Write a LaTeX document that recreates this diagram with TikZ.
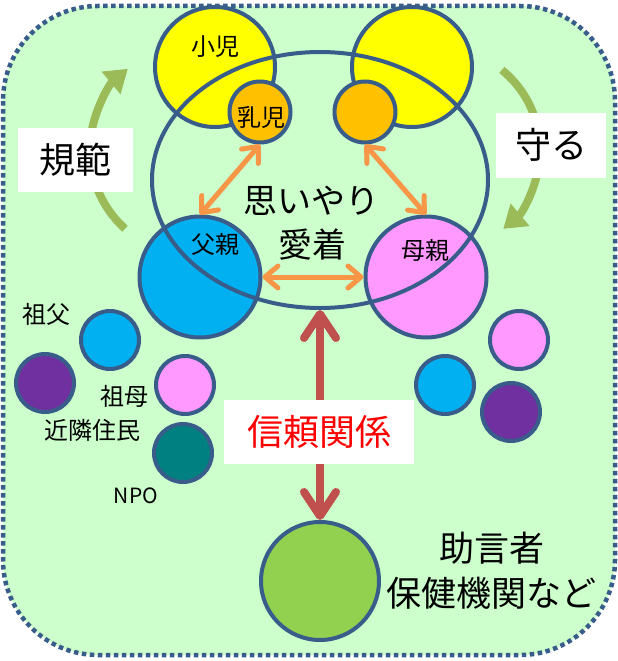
\documentclass[tikz,border=0pt]{standalone}
\usepackage{fontspec}
\setmainfont{Noto Sans CJK JP}
\usetikzlibrary{shapes.geometric,arrows.meta}
\definecolor{rim}{HTML}{385D8A}
\definecolor{field}{HTML}{CCFFCC}
\definecolor{kidyellow}{HTML}{FFFF00}
\definecolor{babyorange}{HTML}{FFC000}
\definecolor{dadblue}{HTML}{00B0F0}
\definecolor{mompink}{HTML}{FF99FF}
\definecolor{folkpurple}{HTML}{7030A0}
\definecolor{npoteal}{HTML}{008080}
\definecolor{aidgreen}{HTML}{92D050}
\definecolor{bondorange}{HTML}{F79646}
\definecolor{trustred}{HTML}{C0504D}
\definecolor{turngreen}{HTML}{9BBB59}
\begin{document}
\begin{tikzpicture}[x=1pt,y=-1pt,
  person/.style={circle,draw=rim,line width=4pt,inner sep=0pt,minimum size=#1},
  word/.style={inner sep=0pt,font=\fontsize{#1}{#1}\selectfont},
  tag/.style={fill=white,inner sep=0pt,font=\fontsize{36}{36}\selectfont},
  bond/.style={draw=bondorange,line width=5pt,<->,>={Straight Barb[length=13pt,width=22pt,round]}},
  turn/.style={draw=turngreen,line width=8pt,-{Triangle[length=22pt,width=28pt]}}]
\useasboundingbox (0,0) rectangle (618,661);
\draw[fill=field,draw=rim,line width=4.5pt,dash pattern=on 4.5pt off 3.5pt,rounded corners=95pt] (3,6) rectangle (615,655);
\draw[turn] (196,150) ++(132:106) arc[start angle=132,end angle=230,radius=106];
\draw[turn] (437,150) ++(-51:103) arc[start angle=-51,end angle=50,radius=103];
\node[tag,minimum width=115pt,minimum height=64pt] (norm) at (75,160) {規範};
\node[tag,minimum width=110pt,minimum height=65pt] (guard) at (551,145) {守る};
\node[person=120pt,fill=kidyellow] (kid) at (215,67) {};
\node[person=120pt,fill=kidyellow] (kid2) at (412,67) {};
\node[person=61pt,fill=babyorange] (baby) at (260,112) {};
\node[person=61pt,fill=babyorange] (baby2) at (365,112) {};
\node[person=121pt,fill=dadblue] (dad) at (200,277) {};
\node[person=121pt,fill=mompink] (mom) at (426,277) {};
\node[ellipse,draw=rim,line width=4pt,inner sep=0pt,minimum width=336pt,minimum height=256pt] (care) at (320,180) {};
\draw[bond] (baby.south) -- (dad.north);
\draw[bond] (baby2.south) -- (mom.north);
\draw[bond] (dad.east) -- (mom.west);
\node[word=24] (kidtext) at (215,47) {小児};
\node[word=24] (babytext) at (261,117) {乳児};
\node[word=24] (dadtext) at (215,244) {父親};
\node[word=24] (momtext) at (425,250) {母親};
\node[word=34] (kindtext) at (311,201) {思いやり};
\node[word=34] (lovetext) at (312,245) {愛着};
\node[person=58pt,fill=dadblue] (grandpa) at (110,340) {};
\node[person=58pt,fill=folkpurple] (folk) at (45,383) {};
\node[person=58pt,fill=mompink] (grandma) at (185,385) {};
\node[person=58pt,fill=npoteal] (npo) at (183,453) {};
\node[person=58pt,fill=mompink] (grandma2) at (519,340) {};
\node[person=58pt,fill=dadblue] (grandpa2) at (445,385) {};
\node[person=58pt,fill=folkpurple] (folk2) at (511,412) {};
\node[word=24] (grandpatext) at (47,314) {祖父};
\node[word=24] (grandmatext) at (124,396) {祖母};
\node[word=24] (folktext) at (92,430) {近隣住民};
\node[word=21] (npotext) at (136,496) {NPO};
\node[person=118pt,fill=aidgreen] (aid) at (320,581) {};
\draw[draw=trustred,line width=8pt,<->,>={Straight Barb[length=24pt,width=32pt,round]}] (care.south) -- (aid.north);
\node[tag,minimum width=190pt,minimum height=64pt,text=red] (trust) at (319,432) {信頼関係};
\node[word=35] (aidtext) at (492,548) {助言者};
\node[word=35] (aidtext2) at (491,593) {保健機関など};
\end{tikzpicture}
\end{document}
